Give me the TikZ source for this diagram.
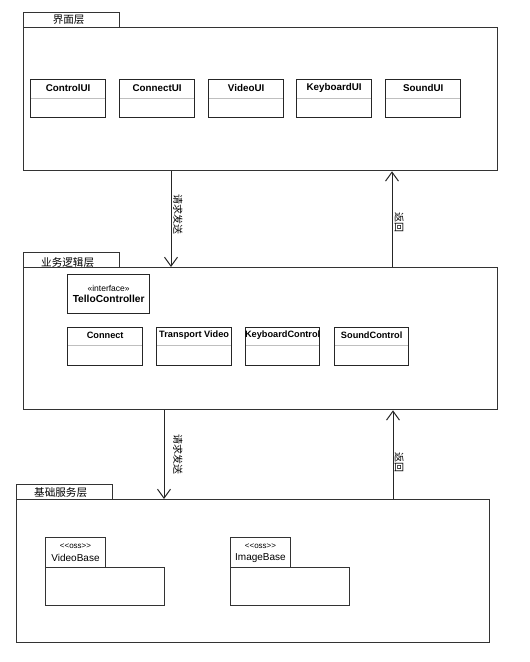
\documentclass[tikz,border=0pt]{standalone}
\usepackage{fontspec}
\setmainfont{Liberation Sans}
\newfontfamily\plainsans{Liberation Sans}
\newfontfamily\cjk{Noto Sans CJK SC}
\usetikzlibrary{arrows.meta}

\tikzset{
  layer/.style={draw=black!80, line width=1.3pt, anchor=north west, inner sep=0pt},
  layertab/.style={draw=black!80, line width=1.3pt, anchor=north west, inner sep=0pt,
    minimum width=96pt, minimum height=15pt},
  tabtext/.style={inner sep=0pt, font=\cjk\fontsize{10.6}{11}\selectfont},
  cls/.style={draw=black!85, line width=1.3pt, anchor=north west, inner sep=0pt,
    minimum width=75pt, minimum height=38pt},
  clsname/.style={inner sep=0pt, font=\bfseries\fontsize{9.8}{10}\selectfont},
  sep/.style={draw=black!25, line width=1pt},
  pkgtab/.style={draw=black!80, line width=1pt, anchor=north west, inner sep=0pt,
    minimum width=60pt, minimum height=30pt},
  pkgbody/.style={draw=black!80, line width=1.3pt, anchor=north west, inner sep=0pt,
    minimum width=119pt, minimum height=38pt},
  flow/.style={draw=black!85, line width=1pt, -{Straight Barb[length=9pt,width=13pt]}},
  flowlabel/.style={rotate=-90, inner sep=0pt, font=\cjk\fontsize{10}{10}\selectfont}
}

\begin{document}
\begin{tikzpicture}[x=1pt,y=1pt,yscale=-1]
\useasboundingbox (0,0) rectangle (530,662);

% 界面层
\node[layertab] (uitab) at (23,12) {};
\node[tabtext] (uitabtext) at ([xshift=-3pt]uitab.center) {界面层};
\node[layer, minimum width=474pt, minimum height=143pt] (ui) at (23,27) {};

\node[cls] (controlui) at (30,79) {};
\node[cls] (connectui) at (119,79) {};
\node[cls] (videoui) at (208,79) {};
\node[cls] (keyboardui) at (296,79) {};
\node[cls] (soundui) at (385,79) {};
\foreach \b/\t in {controlui/ControlUI, connectui/ConnectUI, videoui/VideoUI,
                   keyboardui/KeyboardUI, soundui/SoundUI}{
  \node[clsname] (\b name) at ([yshift=9pt]\b.north) {\t};
  \draw[sep] ([yshift=19pt,xshift=1pt]\b.north west) -- ([yshift=19pt,xshift=-1pt]\b.north east);
}

% 业务逻辑层
\node[layertab] (logictab) at (23,252) {};
\node[tabtext] (logictabtext) at ([xshift=-4pt,yshift=2pt]logictab.center) {业务逻辑层};
\node[layer, minimum width=474pt, minimum height=142pt] (logic) at (23,267) {};

\node[cls, minimum width=82pt, minimum height=39pt] (tello) at (67,274) {};
\node[inner sep=0pt, font=\fontsize{8.5}{9}\selectfont] (tellostereo) at ([yshift=14pt]tello.north) {«interface»};
\node[inner sep=0pt, font=\bfseries\fontsize{10.2}{11}\selectfont] (telloname) at ([yshift=25pt]tello.north) {TelloController};

\node[cls] (connect) at (67,327) {};
\node[cls] (transport) at (156,327) {};
\node[cls, minimum width=74pt] (keyboardctl) at (245,327) {};
\node[cls, minimum width=74pt] (soundctl) at (334,327) {};
\foreach \b/\t in {connect/Connect, transport/Transport Video,
                   keyboardctl/KeyboardControl, soundctl/SoundControl}{
  \node[clsname, font=\bfseries\fontsize{9.2}{10}\selectfont] (\b name) at ([yshift=8pt]\b.north) {\t};
  \draw[sep] ([yshift=18pt,xshift=1pt]\b.north west) -- ([yshift=18pt,xshift=-1pt]\b.north east);
}

% 基础服务层
\node[layertab] (basetab) at (16,484) {};
\node[tabtext] (basetabtext) at ([xshift=-4pt]basetab.center) {基础服务层};
\node[layer, minimum width=473pt, minimum height=143pt] (base) at (16,499) {};

\node[pkgtab] (videotab) at (45,537) {};
\node[pkgbody] (videobase) at (45,567) {};
\node[inner sep=0pt, font=\plainsans\fontsize{8}{8}\selectfont] (videostereo) at ([yshift=9pt]videotab.north) {<<oss>>};
\node[inner sep=0pt, font=\fontsize{10}{10}\selectfont] (videoname) at ([yshift=21pt]videotab.north) {VideoBase};

\node[pkgtab] (imagetab) at (230,537) {};
\node[pkgbody] (imagebase) at (230,567) {};
\node[inner sep=0pt, font=\plainsans\fontsize{8}{8}\selectfont] (imagestereo) at ([yshift=9pt]imagetab.north) {<<oss>>};
\node[inner sep=0pt, font=\fontsize{10}{10}\selectfont] (imagename) at ([yshift=21pt]imagetab.north) {ImageBase};

% 调用与返回
\draw[flow] ([xshift=148pt]ui.south west) -- ([xshift=148pt]logic.north west) coordinate[pos=0.45] (req1m);
\draw[flow] ([xshift=369pt]logic.north west) -- ([xshift=369pt]ui.south west) coordinate[pos=0.46] (ret1m);
\draw[flow] ([xshift=141pt]logic.south west) -- ([xshift=148pt]base.north west) coordinate[pos=0.5] (req2m);
\draw[flow] ([xshift=377pt]base.north west) -- ([xshift=370pt]logic.south west) coordinate[pos=0.41] (ret2m);
\node[flowlabel] (req1) at ([xshift=7pt]req1m) {请求发送};
\node[flowlabel] (ret1) at ([xshift=7pt]ret1m) {返回};
\node[flowlabel] (req2) at ([xshift=14pt]req2m) {请求发送};
\node[flowlabel] (ret2) at ([xshift=6pt]ret2m) {返回};

\end{tikzpicture}
\end{document}
